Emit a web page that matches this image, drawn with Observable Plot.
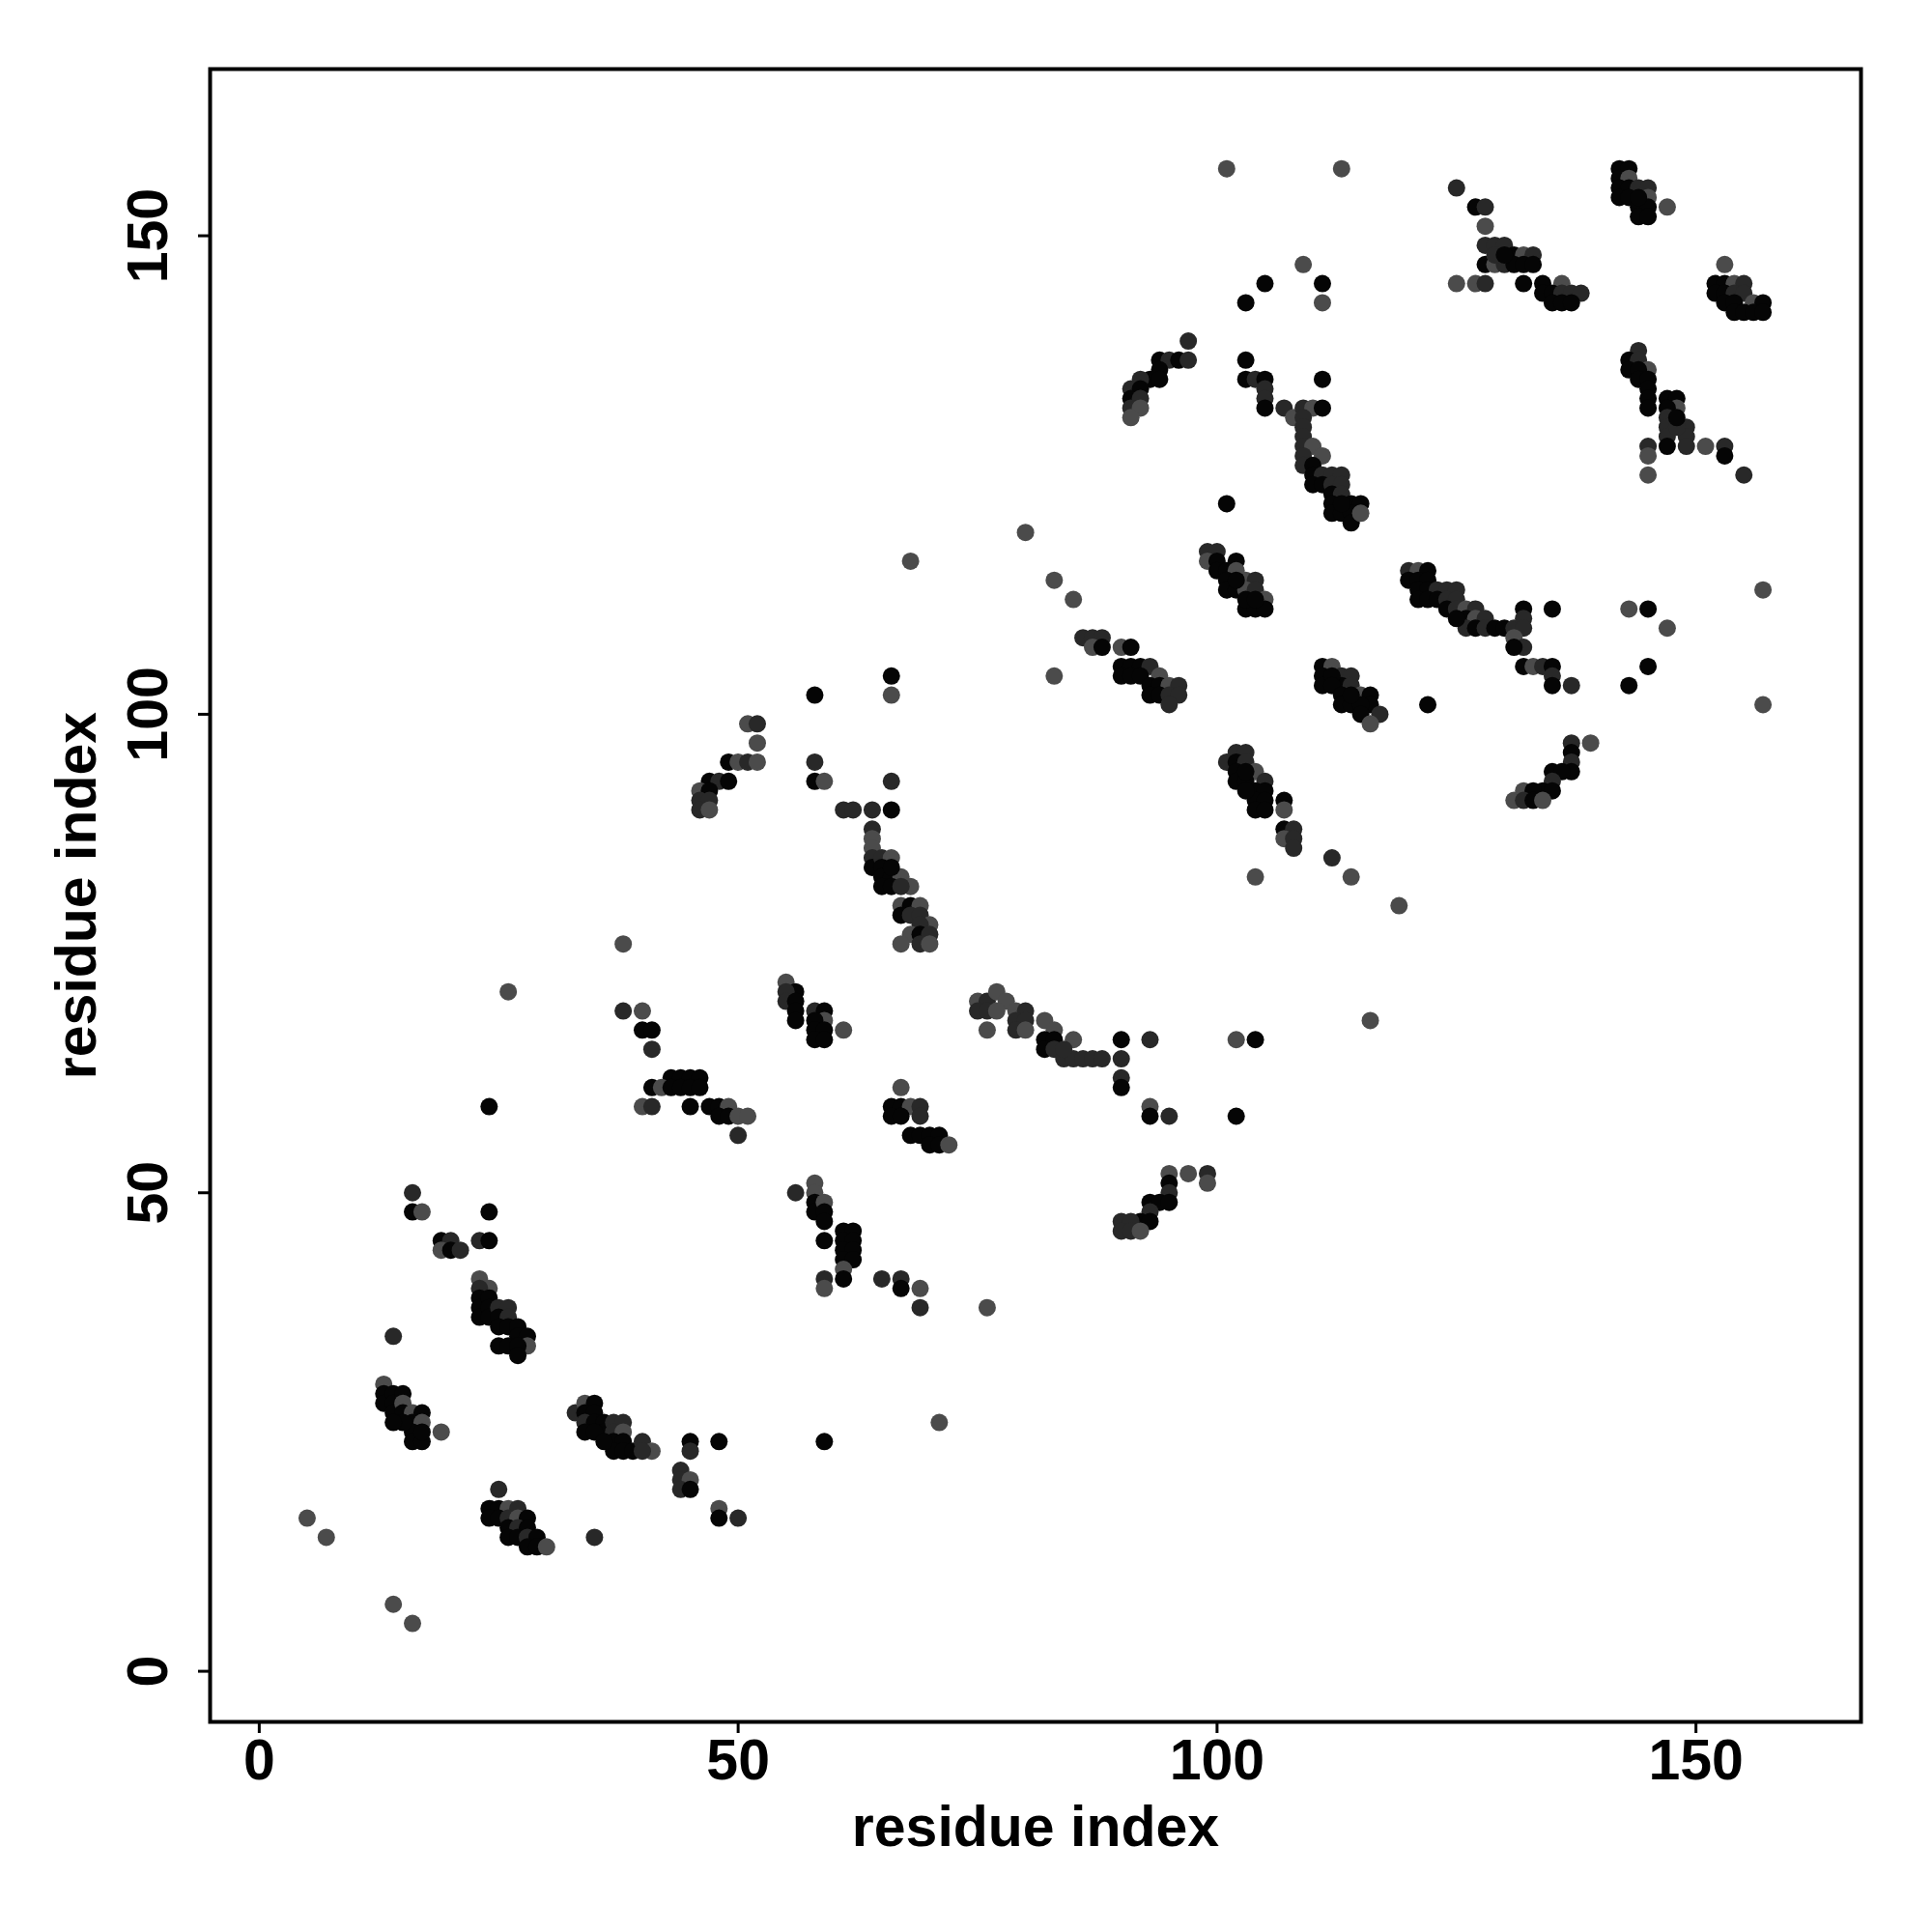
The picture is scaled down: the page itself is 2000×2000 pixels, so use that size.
<!DOCTYPE html>
<html><head><meta charset="utf-8">
<script src="https://cdn.jsdelivr.net/npm/d3@7"></script>
<script src="https://cdn.jsdelivr.net/npm/@observablehq/plot@0.6"></script>
<style>html,body{margin:0;padding:0;background:#fff}</style>
</head><body><div id="chart"></div>
<script>
const xTicks = [0, 50, 100, 150];
const yTicks = [0, 50, 100, 150];
const xTitle = "residue index";
const yTitle = "residue index";

// contacts: [residue i, residue j, level] (level 0 = darkest, 2 = lightest)
const lowerLeft = [
  [16,50,1],[16,48,0],[17,48,2],[24,48,0],
  [19,45,0],[20,45,1],[19,44,2],[20,44,0],[21,44,1],[23,45,1],[24,45,0],
  [23,41,2],[24,40,2],[23,40,1],[23,39,0],[23,38,0],[23,37,0],[24,39,0],[24,38,0],[24,37,0],
  [25,38,1],[26,38,1],[25,37,0],[26,37,1],[25,36,0],[26,36,0],[27,36,0],[27,35,0],[28,35,0],
  [28,34,2],[25,34,0],[26,34,0],[27,34,0],[27,33,0],
  [14,35,1],[19,25,2],
  [13,30,2],[13,29,0],[13,28,0],[14,29,0],[14,28,0],[15,29,0],[14,27,0],[15,28,2],[15,27,0],
  [16,27,2],[16,26,0],[17,27,0],[17,26,2],[16,25,0],[16,24,0],[17,24,0],[15,26,0],[14,26,0],[17,25,0],
  [14,7,2],[16,5,2],[5,16,2],[7,14,2]
];
const lowerMid = [
  [33,27,1],[34,28,2],[35,28,0],[34,27,0],[35,27,0],[34,26,1],[35,26,0],[36,26,0],[34,25,0],[36,25,0],
  [37,26,1],[38,26,1],[37,25,1],[38,25,2],[37,24,0],[38,24,0],[37,23,0],[38,23,0],[39,23,0],
  [40,24,1],[41,23,2],[40,23,1],[35,25,0],[36,24,0],
  [45,24,0],[45,23,1],[48,24,0],
  [44,21,1],[44,20,1],[45,20,2],[44,19,1],[45,19,0],
  [48,17,2],[48,16,0],[50,16,1],[35,14,1],
  [25,19,1],[24,17,0],[25,17,0],[26,17,2],[27,17,1],[24,16,0],[25,16,0],[26,16,1],[27,16,2],
  [28,16,0],[26,15,0],[27,15,1],[28,15,0],[26,14,0],[27,14,0],[28,14,1],[29,14,0],[28,13,0],[29,13,0],[30,13,2]
];
const lowerRight = [
  [56,50,1],[58,51,2],[58,50,2],[58,49,0],[58,48,0],[59,49,2],[59,48,0],[59,47,0],[59,45,0],
  [61,46,0],[62,46,0],[61,45,0],[62,45,0],[61,44,0],[62,44,0],[61,43,0],[62,43,0],[61,42,2],[61,41,0],
  [59,41,1],[59,40,2],[65,41,1],[67,41,1],[67,40,0],[69,40,2],[69,38,1],[76,38,2],[71,26,2],[59,24,0],
  [95,52,2],[97,52,2],[99,52,1],[99,51,2],[95,51,0],[95,50,1],[93,49,0],[94,49,0],[95,49,0],[93,48,1],
  [92,47,0],[93,47,0],[90,47,1],[91,47,1],[90,46,1],[91,46,1],[92,46,2]
];
const midLeft = [
  [38,76,2],[26,71,2],[38,69,1],[40,69,2],[40,67,0],[41,67,0],[41,65,1],[24,59,0],
  [43,62,0],[44,62,0],[45,62,0],[46,62,0],[41,61,0],[42,61,2],[43,61,0],[44,61,0],[45,61,0],[46,61,0],
  [40,59,2],[41,59,1],[45,59,0],[47,59,0],[48,59,0],[49,59,2],
  [48,58,0],[49,58,0],[50,58,2],[51,58,2],[50,56,1],
  [51,99,2],[52,99,1],[52,97,2],[49,95,0],[50,95,2],[51,95,1],[52,95,2],[47,93,0],[48,93,1],[49,93,0],
  [46,92,2],[47,92,0],[46,91,1],[47,91,1],[46,90,1],[47,90,2]
];
const midCentre = [
  [66,104,0],[66,102,2],[58,102,0],[58,95,1],[58,93,0],[59,93,2],[66,93,1],
  [61,90,1],[62,90,1],[64,90,1],[66,90,0],
  [64,88,1],[64,87,2],[64,86,2],[64,85,1],[64,84,0],[65,85,1],[66,85,2],[65,84,0],[65,83,0],[66,83,0],
  [67,83,2],[68,82,2],[65,82,0],[66,82,0],[67,82,1],[66,84,0],
  [67,80,2],[68,80,0],[69,80,2],[67,79,0],[68,79,1],[69,79,1],[70,78,2],[69,78,1],[68,77,2],[69,77,0],
  [70,77,1],[67,76,2],[69,76,1],[70,76,2],
  [55,72,2],[56,71,0],[55,71,1],[55,70,1],[56,70,0],[56,69,0],[56,68,0],[58,69,1],[59,69,0],[59,68,2],
  [58,68,0],[58,67,0],[59,67,0],[58,66,0],[59,66,0],[61,67,2],
  [67,61,2],[66,59,0],[67,59,0],[68,59,2],[69,59,1],[66,58,0],[67,58,0],[69,58,1],
  [68,56,0],[69,56,0],[70,56,0],[71,56,0],[70,55,0],[71,55,0],[72,55,2]
];
const midChain = [
  [75,70,2],[76,70,1],[77,71,2],[78,70,2],[75,69,1],[76,69,1],[77,69,2],[76,67,2],[79,69,2],[80,69,1],
  [79,68,1],[80,68,1],[79,67,1],[80,67,2],
  [82,68,2],[83,67,2],[82,66,0],[83,66,0],[82,65,0],[83,65,1],[85,66,2],[84,64,1],[85,64,1],[86,64,1],
  [87,64,1],[88,64,1],[84,65,1],
  [90,66,0],[90,64,1],[90,62,1],[90,61,0],[93,66,1],[93,59,2],[93,58,0],[95,58,1],[102,66,2],[104,66,0],
  [102,58,0],[83,104,2],
  [90,105,0],[91,105,0],[92,105,0],[93,105,1],[90,104,0],[91,104,0],[92,104,0],[94,104,2],[93,103,0],
  [94,103,0],[95,103,2],[96,103,1],[93,102,0],[94,102,0],[95,102,1],[96,102,1],[95,101,1],
  [102,96,1],[103,96,1],[101,95,1],[102,95,0],[103,95,1],[102,94,0],[104,94,2],[105,93,1],[102,93,0],
  [103,93,0],[104,92,0],[105,92,0],[104,91,0],[105,91,0],[104,90,0],[105,90,0],[104,83,2],[103,94,0],[103,92,0]
];
const midRight = [
  [111,105,0],[112,105,2],[111,104,0],[113,104,1],[114,104,1],[111,103,0],[113,103,0],[114,103,1],
  [112,104,0],[112,103,0],[113,102,0],[115,102,2],[116,102,0],[113,101,0],[114,101,0],[116,101,0],
  [115,101,0],[115,100,0],[117,100,1],[116,99,2],[114,102,0],
  [122,101,0],[157,101,2],
  [132,105,0],[133,105,2],[134,105,1],[135,105,0],[135,104,1],[135,103,0],[137,103,1],[143,103,0],[145,105,0],
  [107,91,0],[107,90,2],[107,88,0],[108,88,1],[107,87,2],[108,87,1],[108,86,1],
  [112,85,1],[114,83,2],[119,80,2],[116,68,2],
  [137,97,1],[139,97,2],[137,96,0],[137,95,1],[137,94,0],[135,94,0],[136,94,0],[135,93,1],[134,92,0],
  [135,92,0],[132,92,2],[133,92,0],[131,91,2],[132,91,1],[133,91,0],[134,91,2]
];
const upperCentre = [
  [101,157,2],[68,116,2],[80,119,2],[83,114,2],[85,112,2],[101,122,0],[103,143,0],[105,145,0],[97,139,1],
  [94,137,0],[95,137,1],[96,137,0],[97,137,1],[94,136,0],[93,135,0],[94,135,0],[92,135,1],[91,134,1],
  [92,134,0],[91,133,0],[92,133,1],[91,132,1],[92,132,2],[91,131,2],
  [103,137,0],[103,135,0],[104,135,1],[105,135,0],[105,134,1],[105,133,1],[105,132,0],
  [99,117,1],[100,117,1],[99,116,2],[100,116,0],[102,116,0],[100,115,0],[101,115,0],[102,115,2],[101,114,0],
  [103,114,2],[104,114,1],[101,113,0],[102,113,0],[103,113,2],[104,113,1],[105,112,2],[103,111,0],
  [104,111,0],[105,111,0],[102,114,0],[103,112,0],[104,112,0],
  [86,108,1],[87,108,1],[88,108,1],[87,107,2],[88,107,0],[90,107,2],[91,107,0]
];
const upperRight = [
  [113,157,2],[125,155,1],[127,153,0],[128,153,1],[128,151,2],[128,149,1],[129,149,1],[130,149,1],
  [128,147,0],[129,147,2],[130,147,1],[131,148,0],[132,148,2],[133,148,1],[131,147,0],[132,147,0],
  [133,147,0],[129,148,1],[130,148,0],
  [125,145,2],[127,145,2],[128,145,1],[132,145,0],[134,145,0],[136,145,2],
  [134,144,0],[135,144,0],[136,144,1],[137,144,1],[138,144,1],[135,143,0],[136,143,0],[137,143,0],
  [142,157,0],[143,157,0],[142,156,0],[143,156,2],[142,155,0],[143,155,0],[144,155,1],[145,155,1],
  [142,154,0],[143,154,0],[145,154,2],[144,153,0],[145,153,0],[144,152,0],[145,152,0],[147,153,2],[144,154,0],
  [153,147,2],[152,145,0],[153,145,0],[154,145,2],[155,145,1],[152,144,0],[153,144,0],[154,144,1],
  [155,144,1],[153,143,0],[154,143,0],[156,143,2],[157,143,0],[154,142,0],[155,142,0],[156,142,0],[157,142,0],
  [109,147,2],[111,145,0],[111,143,2]
];
const upperBand = [
  [111,135,0],[107,132,1],[108,131,2],[109,132,1],[110,132,2],[111,132,0],[109,131,1],[109,130,1],
  [109,129,1],[109,128,1],[110,128,2],[111,127,2],[109,127,1],[109,126,1],[110,126,0],[110,125,0],
  [111,125,1],[112,125,1],[113,125,1],[110,124,0],[111,124,0],[112,124,1],[113,124,1],[112,123,0],
  [113,123,1],[112,122,0],[114,122,0],[115,122,0],[112,121,0],[113,121,0],[114,121,0],[114,120,0],
  [115,121,2],[113,122,0],
  [120,115,1],[121,115,2],[122,115,0],[120,114,0],[121,114,0],[122,114,0],[121,113,0],[122,113,0],
  [123,113,1],[124,113,1],[125,113,1],[121,112,0],[122,112,0],[123,112,0],[124,112,1],[125,112,1],
  [124,111,0],[125,111,1],[126,111,2],[127,111,1],[126,110,0],[127,110,2],[128,110,1],[126,109,1],
  [127,109,0],[128,109,1],[129,109,0],[130,109,0],[131,109,1],[132,111,0],[132,110,1],[132,109,1],
  [135,111,0],[131,108,2],[132,107,1],[131,107,0],[125,110,0],
  [143,111,2],[145,111,0],[147,109,2],[157,113,2],
  [144,138,1],[143,137,0],[144,137,1],[145,136,2],[143,136,0],[144,136,0],[144,135,0],[145,135,0],
  [145,134,0],[145,133,0],[145,132,0],[147,133,0],[148,133,0],[148,132,2],[147,132,0],[147,131,1],
  [147,130,1],[149,130,1],[147,129,1],[149,129,1],[147,128,0],[149,128,1],[148,130,1],[148,131,0],
  [145,128,1],[145,127,2],[145,125,2],[151,128,2],[153,128,1],[153,127,0],[155,125,1]
];

const contacts = [].concat(lowerLeft, lowerMid, lowerRight, midLeft, midCentre, midChain,
  midRight, upperCentre, upperRight, upperBand).map(([i, j, level]) => ({i, j, level}));

const fontFamily = "'Liberation Sans', Arial, Helvetica, sans-serif";

const chart = Plot.plot({
  width: 2000,
  height: 2000,
  marginLeft: 217,
  marginRight: 74,
  marginTop: 71,
  marginBottom: 218,
  x: {domain: [-5.13, 167.23], axis: null},
  y: {domain: [-5.29, 167.42], axis: null},
  color: {type: "linear", domain: [0, 2], range: ["#050505", "#4b4b4b"]},
  style: {fontFamily, fontWeight: "bold", background: "#fff", color: "#000"},
  marks: [
    Plot.dot(contacts, {x: "i", y: "j", r: 9, fill: "level", stroke: null}),
    Plot.frame({stroke: "#000", strokeWidth: 4}),
    Plot.axisX(xTicks, {anchor: "bottom", tickSize: 12, tickFormat: () => "", label: null, strokeWidth: 3}),
    Plot.axisY(yTicks, {anchor: "left", tickSize: 12, tickFormat: () => "", label: null, strokeWidth: 3}),
    Plot.text(xTicks, {x: d => d, text: d => String(d), frameAnchor: "bottom", lineAnchor: "middle", textAnchor: "middle", dy: 41, fontSize: 59, fontWeight: "bold", fill: "#000"}),
    Plot.text(yTicks, {y: d => d, text: d => String(d), frameAnchor: "left", lineAnchor: "middle", textAnchor: "middle", dx: -63, rotate: -90, fontSize: 59, fontWeight: "bold", fill: "#000"}),
    Plot.text([xTitle], {text: d => d, frameAnchor: "bottom", lineAnchor: "middle", textAnchor: "middle", dy: 110, fontSize: 59, fontWeight: "bold", fill: "#000"}),
    Plot.text([yTitle], {text: d => d, frameAnchor: "left", lineAnchor: "middle", textAnchor: "middle", dx: -137, rotate: -90, fontSize: 59, fontWeight: "bold", fill: "#000"})
  ]
});
document.getElementById("chart").append(chart);
</script>
</body></html>
